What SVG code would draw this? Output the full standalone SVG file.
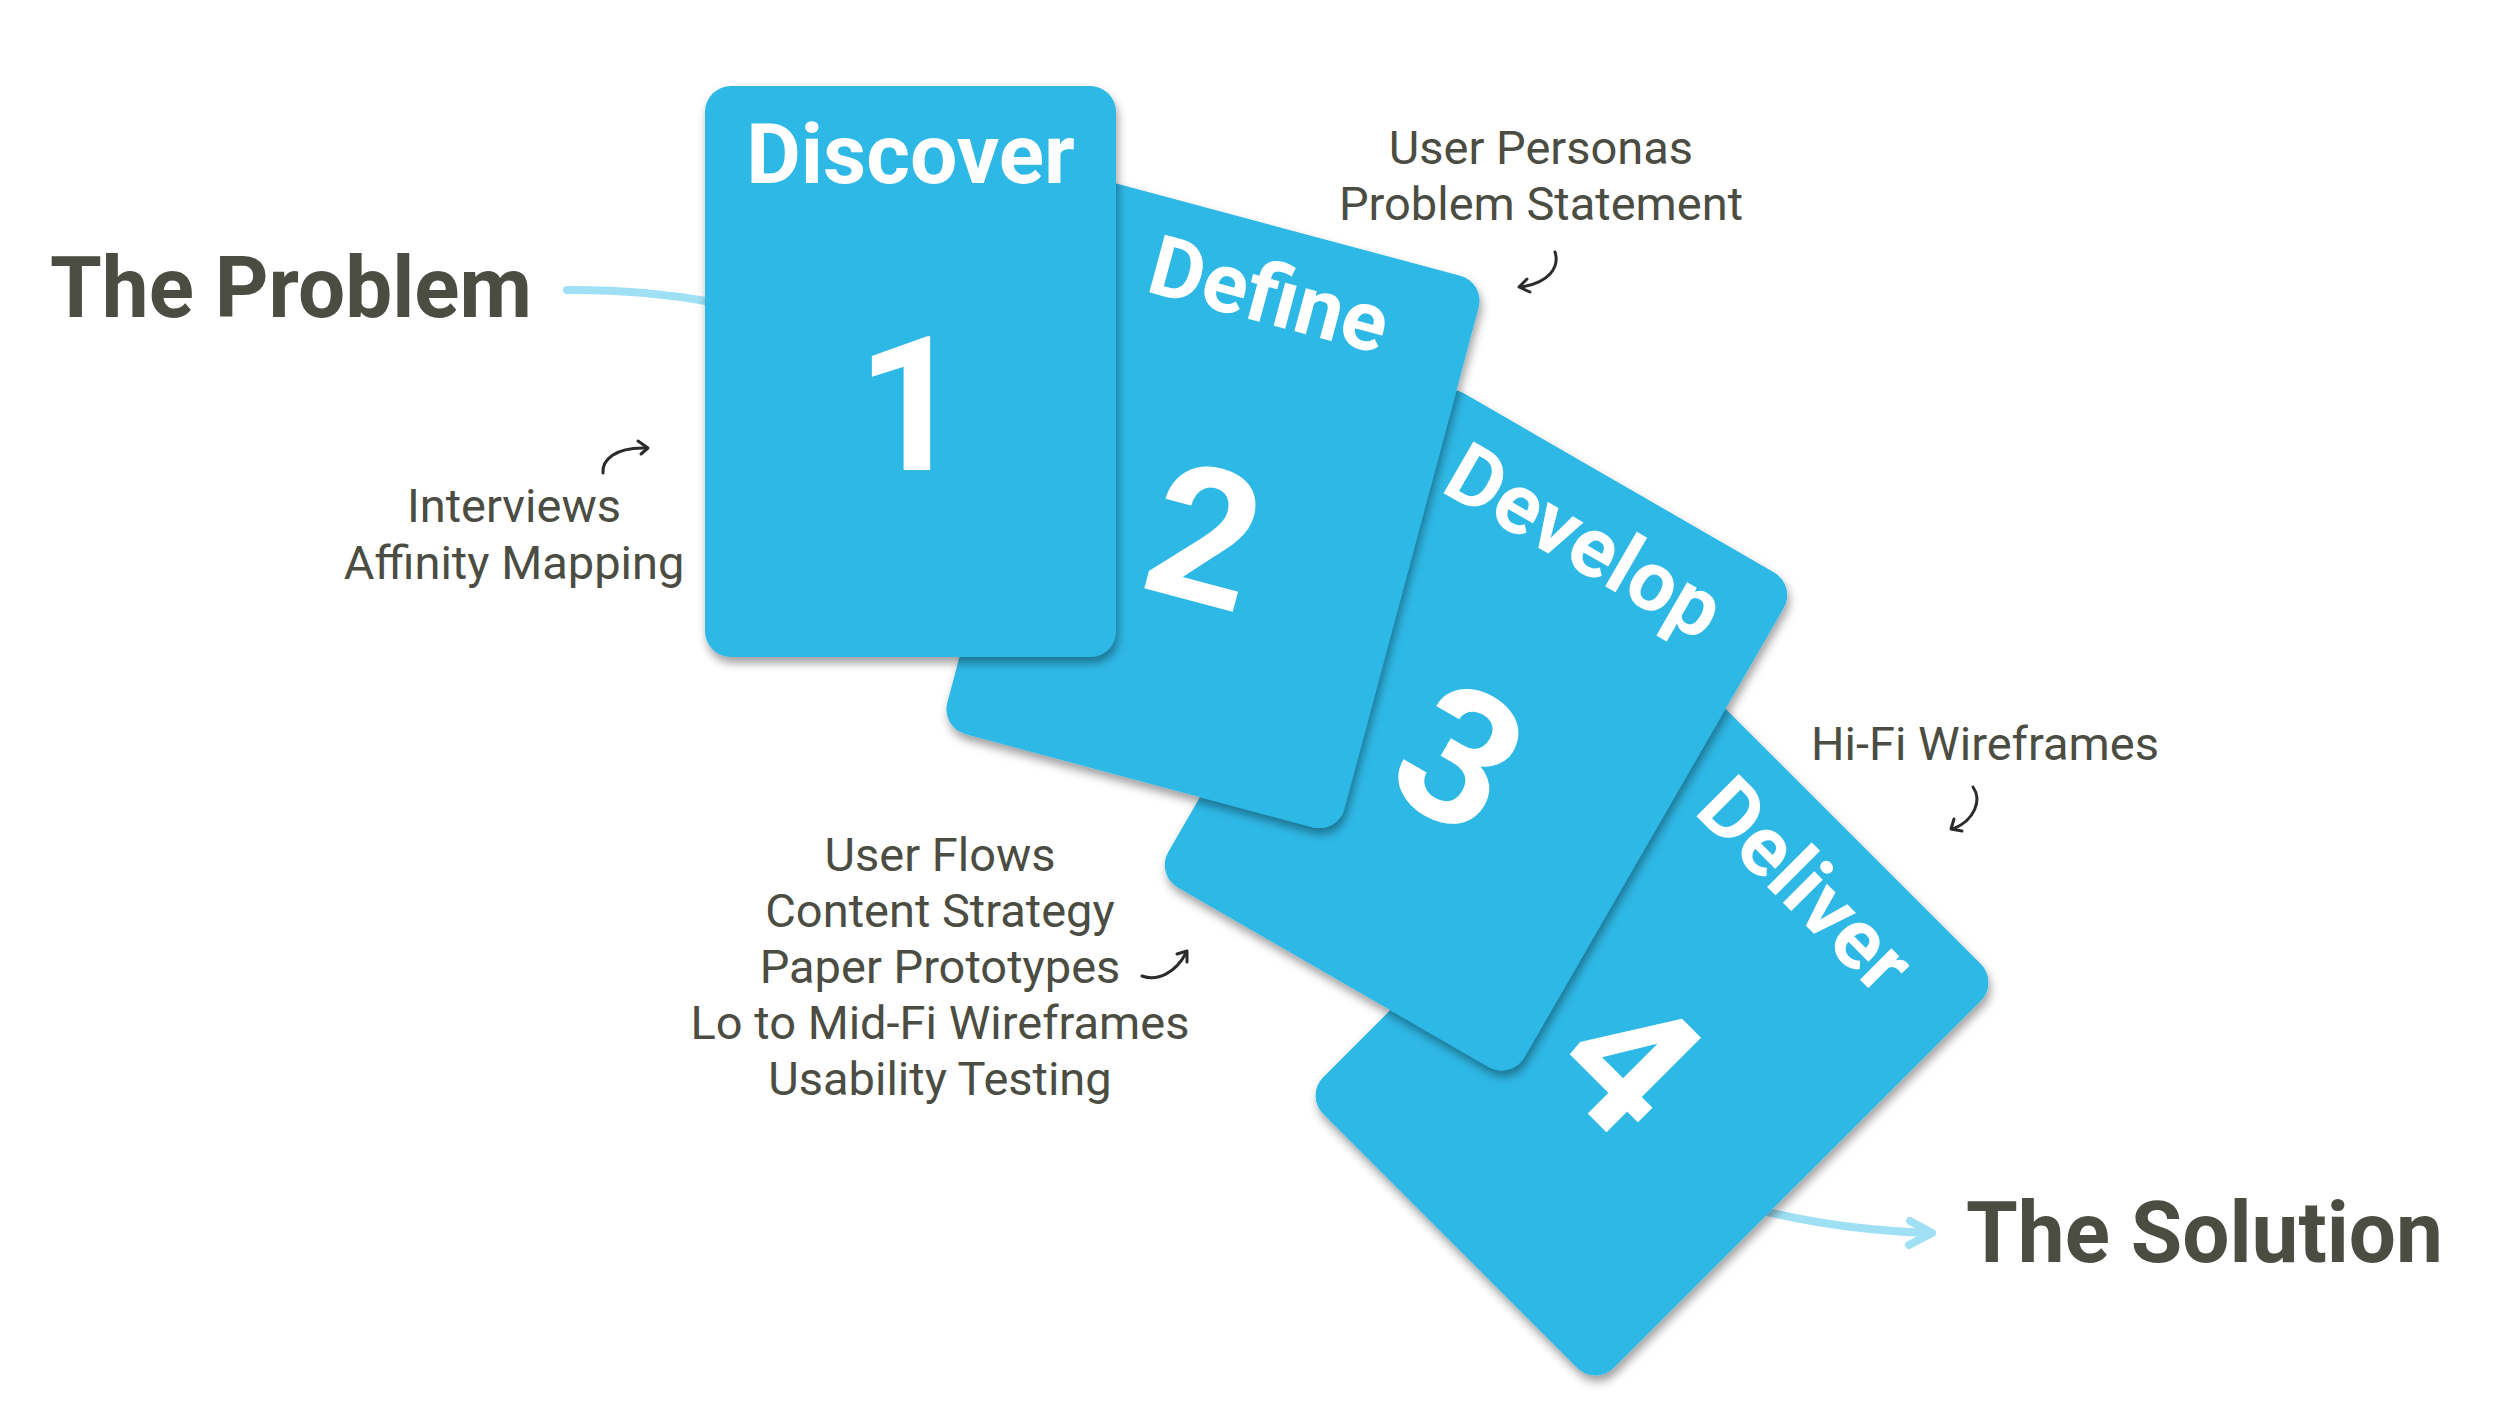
<svg xmlns="http://www.w3.org/2000/svg" width="2500" height="1403" viewBox="0 0 2500 1403">
  <style>
    .card { fill: #2db8e6; }
    .title { font-family: Roboto, "Liberation Sans", sans-serif; font-weight: bold; font-size: 84px; fill: #ffffff; text-anchor: middle; }
    .num { font-family: Roboto, "Liberation Sans", sans-serif; font-weight: bold; font-size: 188px; fill: #ffffff; text-anchor: middle; }
    .head { font-family: Roboto, "Liberation Sans", sans-serif; font-weight: bold; font-size: 86px; fill: #4b4c42; }
    .note { font-family: Roboto, "Liberation Sans", sans-serif; font-size: 47px; fill: #4b4c42; text-anchor: middle; }
    .flow { fill: none; stroke: #9fe0f4; stroke-width: 8; stroke-linecap: round; stroke-linejoin: round; }
    .hand { fill: none; stroke: #2b2b2b; stroke-width: 3; stroke-linecap: round; stroke-linejoin: round; }
  </style>
  <defs>
    <filter id="sh" x="-20%" y="-20%" width="140%" height="140%">
      <feDropShadow dx="2" dy="6" stdDeviation="5" flood-color="#000000" flood-opacity="0.38"/>
    </filter>
  </defs>
  <rect width="2500" height="1403" fill="#ffffff"/>

  <g id="connectors">
    <path class="flow" d="M 567,290 Q 640,289 712,302"/>
    <path class="flow" d="M 1700,1195 C 1790,1220 1850,1230 1928,1233"/>
    <path class="flow" d="M 1910,1221 L 1932,1233 L 1909,1245"/>
    <path class="hand" d="M 603,473 C 602,460 615,447 646,448"/>
    <path class="hand" d="M 638,441 L 648,448 L 641,454"/>
    <path class="hand" d="M 1555,252 C 1560,268 1548,283 1521,287"/>
    <path class="hand" d="M 1527,279 L 1519,287 L 1530,292"/>
    <path class="hand" d="M 1973,787 C 1982,800 1975,820 1953,829"/>
    <path class="hand" d="M 1954,819 L 1951,829 L 1962,831"/>
    <path class="hand" d="M 1142,976 C 1158,982 1176,972 1186,953"/>
    <path class="hand" d="M 1177,954 L 1187,951 L 1187,962"/>
  </g>

  <g id="card-4">
    <g filter="url(#sh)"><rect class="card" transform="translate(1652,1039) rotate(45)" x="-205.5" y="-285.5" width="411" height="571" rx="26"/></g>
    <g transform="translate(1652,1039) rotate(45)">
      <text class="title" x="0" y="-189">Deliver</text>
      <text class="num" x="0" y="98">4</text>
    </g>
  </g>
  <g id="card-3">
    <g filter="url(#sh)"><rect class="card" transform="translate(1476,730) rotate(30)" x="-205.5" y="-285.5" width="411" height="571" rx="26"/></g>
    <g transform="translate(1476,730) rotate(30)">
      <text class="title" x="0" y="-189">Develop</text>
      <text class="num" x="0" y="98">3</text>
    </g>
  </g>
  <g id="card-2">
    <g filter="url(#sh)"><rect class="card" transform="translate(1213,505) rotate(15)" x="-205.5" y="-285.5" width="411" height="571" rx="26"/></g>
    <g transform="translate(1213,505) rotate(15)">
      <text class="title" x="0" y="-189">Define</text>
      <text class="num" x="0" y="98">2</text>
    </g>
  </g>
  <g id="card-1">
    <g filter="url(#sh)"><rect class="card" x="705" y="86" width="411" height="571" rx="26"/></g>
    <text class="title" x="910.5" y="183">Discover</text>
    <text class="num" x="910.5" y="470">1</text>
  </g>

  <g id="the-problem"><text class="head" x="50" y="317" textLength="482" lengthAdjust="spacingAndGlyphs">The Problem</text></g>
  <g id="the-solution"><text class="head" x="1966" y="1262" textLength="477" lengthAdjust="spacingAndGlyphs">The Solution</text></g>

  <g id="note-discover">
    <text class="note" x="514" y="522">Interviews</text>
    <text class="note" x="514" y="579">Affinity Mapping</text>
  </g>
  <g id="note-define">
    <text class="note" x="1541" y="164">User Personas</text>
    <text class="note" x="1541" y="220">Problem Statement</text>
  </g>
  <g id="note-develop">
    <text class="note" x="940" y="871">User Flows</text>
    <text class="note" x="940" y="927">Content Strategy</text>
    <text class="note" x="940" y="983">Paper Prototypes</text>
    <text class="note" x="940" y="1039">Lo to Mid-Fi Wireframes</text>
    <text class="note" x="940" y="1095">Usability Testing</text>
  </g>
  <g id="note-deliver">
    <text class="note" x="1985" y="760">Hi-Fi Wireframes</text>
  </g>
</svg>
